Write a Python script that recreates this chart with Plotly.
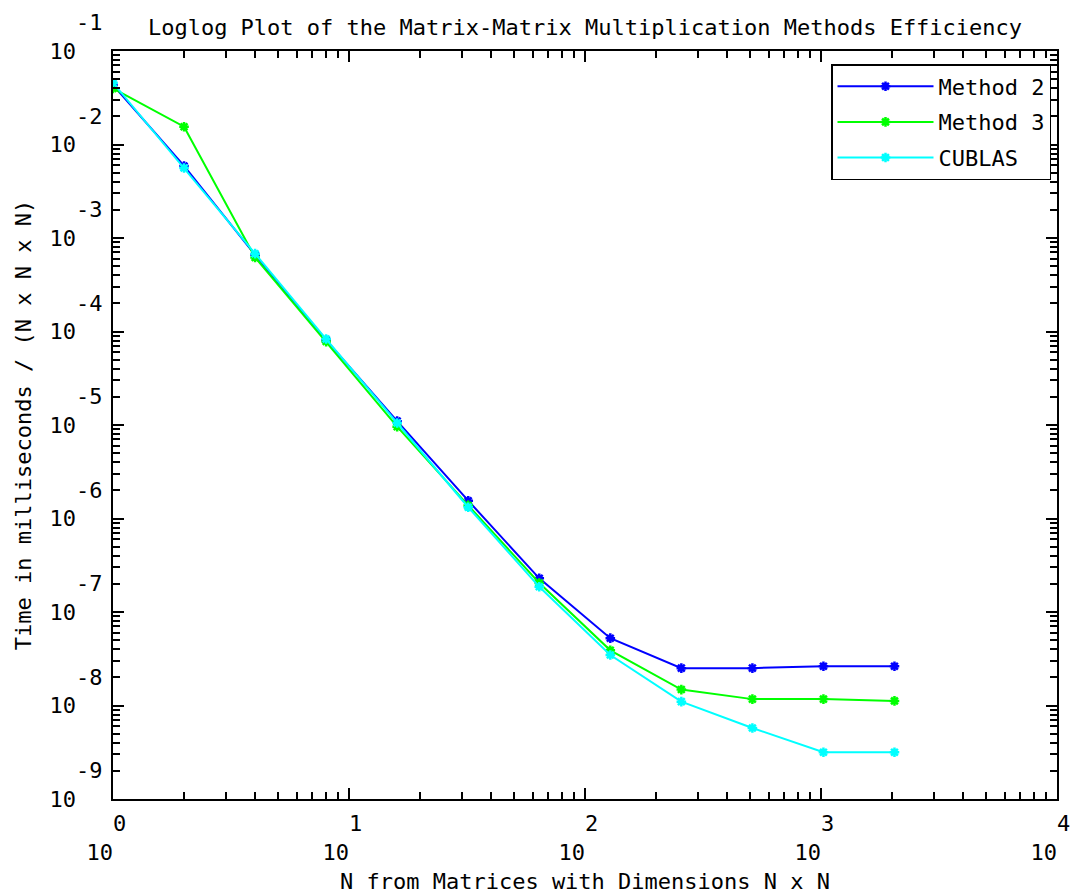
import plotly.graph_objects as go

# Data
N = [1, 2, 4, 8, 16, 32, 64, 128, 256, 512, 1024, 2048]
method2 = [4.33e-02, 5.9e-03, 6.6e-04, 8.1e-05, 1.10e-05, 1.55e-06, 2.29e-07, 5.25e-08, 2.51e-08, 2.51e-08, 2.63e-08, 2.63e-08]
method3 = [3.98e-02, 1.55e-02, 6.2e-04, 7.8e-05, 9.6e-06, 1.38e-06, 2.04e-07, 3.89e-08, 1.48e-08, 1.17e-08, 1.17e-08, 1.12e-08]
cublas = [4.57e-02, 5.6e-03, 6.8e-04, 8.3e-05, 1.05e-05, 1.32e-06, 1.86e-07, 3.47e-08, 1.10e-08, 5.75e-09, 3.16e-09, 3.16e-09]

series = [("Method 2", method2, "#0000ff"),
          ("Method 3", method3, "#00ff00"),
          ("CUBLAS", cublas, "#00ffff")]

x_major = [1, 10, 100, 1000, 10000]
x_labels_exp = ["0", "1", "2", "3", "4"]
y_major = [1e-9, 1e-8, 1e-7, 1e-6, 1e-5, 1e-4, 1e-3, 1e-2, 1e-1]
y_labels_exp = ["-9", "-8", "-7", "-6", "-5", "-4", "-3", "-2", "-1"]

FONT = "DejaVu Sans Mono"
FS = 22
SP = "\u00a0"

def xlab(e):
    # exponent on the upper line just right of the tick, "10" below, left of the tick
    return SP * 2 + e + SP + "<br>10" + SP * 2

def ylab(e):
    # right-aligned: exponent at the end, "10" two characters in, on the tick line
    return e + "<br>10" + SP * 2 + "<br>" + SP

x_minor = [m * 10 ** d for d in range(0, 4) for m in range(2, 10)]
y_minor = [m * 10.0 ** d for d in range(-9, -1) for m in range(2, 10)]

fig = go.Figure()
for name, vals, col in series:
    fig.add_trace(go.Scatter(
        x=N, y=vals, name=name, mode="lines+markers", legendgroup=name,
        line=dict(color=col, width=2),
        marker=dict(symbol="asterisk", size=8, color=col, line=dict(color=col, width=2.5)),
    ))

axis_common = dict(
    showline=True, linecolor="black", linewidth=2, mirror="allticks",
    ticks="inside", ticklen=11, tickcolor="black", tickwidth=1.5,
    showgrid=False, zeroline=False, automargin=False,
    ticklabeloverflow="allow",
    tickfont=dict(family=FONT, size=FS, color="black"),
)

fig.update_xaxes(
    type="log", range=[0, 4], tickmode="array", tickvals=x_major,
    ticktext=[xlab(e) for e in x_labels_exp],
    minor=dict(tickmode="array", tickvals=x_minor, ticks="inside", ticklen=7,
               tickcolor="black", tickwidth=1.5, showgrid=False),
    title=dict(text="N from Matrices with Dimensions N x N",
               font=dict(family=FONT, size=FS, color="black"), standoff=10),
    ticklabelstandoff=4,
    **axis_common,
)
fig.update_yaxes(
    type="log", range=[-9, -1], tickmode="array", tickvals=y_major,
    ticktext=[ylab(e) for e in y_labels_exp],
    minor=dict(tickmode="array", tickvals=y_minor, ticks="inside", ticklen=7,
               tickcolor="black", tickwidth=1.5, showgrid=False),
    title=dict(text="Time in milliseconds / (N x N x N)",
               font=dict(family=FONT, size=FS, color="black"), standoff=12),
    ticklabelstandoff=4,
    **axis_common,
)

fig.update_layout(
    width=1079, height=895,
    margin=dict(l=113, r=22, t=51, b=96, pad=0, autoexpand=False),
    paper_bgcolor="white", plot_bgcolor="white",
    title=dict(text="Loglog Plot of the Matrix-Matrix Multiplication Methods Efficiency",
               font=dict(family=FONT, size=FS, color="black"),
               x=0.5, xanchor="center", xref="paper",
               y=1 - 27 / 895, yanchor="middle"),
    font=dict(family=FONT, size=FS, color="black"),
    legend=dict(x=(1051 - 113) / 944, y=(799 - 64) / 748, xanchor="right", yanchor="top",
                bgcolor="white", bordercolor="black", borderwidth=1.5,
                font=dict(family=FONT, size=FS, color="black"),
                tracegroupgap=4, itemwidth=96, entrywidth=115),
    showlegend=True,
)

fig.write_html("out.html")
